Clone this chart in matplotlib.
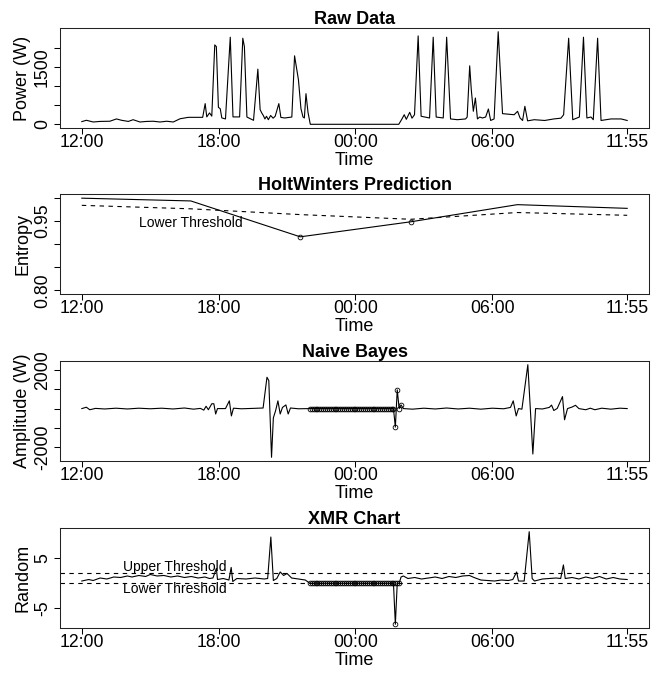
import numpy as np
import matplotlib
matplotlib.use('Agg')
import matplotlib.pyplot as plt

plt.rcParams['font.family'] = ['Liberation Sans', 'DejaVu Sans']

# x axis: hours since 12:00
tick_hours = [0, 6, 12, 18, 23 + 55 / 60]
tick_labels = ['12:00', '18:00', '00:00', '06:00', '11:55']

# --- Raw Data (W) ---
raw_t = [0.0, 0.2, 0.5, 0.8, 1.23, 1.52, 1.74, 2.04, 2.25, 2.55, 2.84, 3.13, 3.43, 3.72,
         4.01, 4.31, 4.67, 5.3, 5.41, 5.48, 5.6, 5.7, 5.83, 5.9, 5.99, 6.07, 6.14, 6.3,
         6.51, 6.63, 6.92, 7.06, 7.13, 7.24, 7.53, 7.72, 7.82, 7.89, 7.96, 8.03, 8.1,
         8.18, 8.28, 8.39, 8.48, 8.64, 8.73, 8.9, 9.21, 9.33, 9.5, 9.61, 9.7, 9.76, 9.83,
         9.92, 10.02, 13.9, 14.04, 14.14, 14.23, 14.38, 14.48, 14.59, 14.75, 14.88, 15.25,
         15.41, 15.54, 15.85, 16.0, 16.17, 16.47, 16.83, 16.9, 17.01, 17.08, 17.17, 17.26,
         17.35, 17.45, 17.57, 17.71, 17.83, 17.93, 18.08, 18.26, 18.45, 18.96, 19.11,
         19.22, 19.33, 19.43, 19.55, 19.84, 20.3, 20.7, 21.01, 21.13, 21.35, 21.53, 21.82,
         22.0, 22.15, 22.33, 22.43, 22.62, 22.77, 23.21, 23.65, 23.917]
raw_w = [70, 105, 60, 75, 80, 140, 105, 75, 120, 60, 75, 80, 60, 80,
         60, 145, 182, 182, 540, 193, 297, 214, 2075, 2031, 443, 408, 166, 140,
         2276, 193, 193, 2250, 2030, 190, 104, 1442, 383, 297, 230, 140, 210,
         120, 230, 160, 210, 540, 180, 165, 190, 1790, 1164, 410, 190, 165, 800,
         310, 0, 0, 140, 250, 130, 313, 160, 250, 2310, 210, 165,
         2276, 190, 165, 2276, 140, 120, 140, 190, 1528, 904, 340, 687,
         140, 190, 165, 190, 400, 100, 140, 2420, 278, 250, 340,
         165, 100, 470, 90, 120, 100, 140, 160, 250, 2250, 120, 190,
         2276, 165, 190, 120, 2250, 100, 140, 140, 100]

# --- HoltWinters prediction ---
hw_t = [0.0, 4.78, 9.58, 14.43, 19.1, 23.917]
hw_entropy = [0.999, 0.993, 0.9155, 0.948, 0.985, 0.977]
hw_lower = [0.9835, 0.976, 0.9635, 0.9534, 0.968, 0.962]

# --- Naive Bayes amplitude (W) ---
nb_t = [0.0, 0.2, 0.35, 0.6, 1.0, 1.5, 2.0, 2.5, 3.0, 3.5, 4.0, 4.5, 4.9, 5.2, 5.35,
        5.45, 5.55, 5.7, 5.79, 5.87, 5.95, 6.3, 6.47, 6.56, 6.65, 7.0, 7.5, 7.95, 8.12,
        8.2, 8.32, 8.4, 8.5, 8.6, 8.7, 8.8, 8.95, 9.05, 9.15, 9.5, 10.0, 13.667, 13.75,
        13.833, 13.917, 14.0, 14.1, 14.5, 15.0, 15.5, 16.0, 16.5, 17.0, 17.5, 18.0,
        18.5, 18.8, 18.92, 19.05, 19.15, 19.3, 19.56, 19.78, 19.9, 20.2, 20.5, 20.6,
        20.7, 20.85, 21.08, 21.17, 21.3, 21.5, 21.65, 21.8, 22.1, 22.3, 22.5, 22.8,
        23.2, 23.6, 23.917]
nb_w = [0, 70, -60, 10, -20, 20, -20, 20, -10, 20, -20, 30, -30, 10, -80,
        120, -60, 250, 250, -280, 0, 0, 400, -380, 20, -10, 10, 30, 1620,
        1450, -2520, -480, -100, 400, -280, 60, 190, -280, 30, -10, 0, 0, -960,
        970, 0, 190, 0, -30, 20, -20, 30, -20, 20, -30, 20,
        -10, 60, 400, -380, 0, -30, 2270, -2350, 0, -20, 60, 180,
        -100, 10, 620, -580, 0, 80, 170, 0, -60, 20, -60, 20,
        -30, 20, 0]
nb_flag_t = list(np.arange(10.0, 13.7, 1 / 12)) + [13.75, 13.833, 13.917, 14.0]
nb_flag_w = [0] * 45 + [-960, 970, 0, 190]

# --- XMR chart ---
xmr_t = [0.0, 0.3, 0.5, 0.8, 1.1, 1.4, 1.7, 2.0, 2.2, 2.5, 2.8, 3.0, 3.3, 3.6, 3.9,
         4.2, 4.5, 4.8, 5.1, 5.4, 5.6, 5.75, 5.9, 5.95, 6.2, 6.45, 6.55, 6.62, 6.8, 7.2,
         7.6, 8.0, 8.15, 8.29, 8.4, 8.55, 8.7, 8.85, 9.0, 9.2, 9.5, 9.8, 10.0, 13.667,
         13.75, 13.833, 13.917, 14.0, 14.1, 14.3, 14.6, 14.9, 15.2, 15.5, 15.8, 16.1,
         16.4, 16.7, 17.0, 17.2, 17.5, 17.8, 18.1, 18.4, 18.7, 18.9, 19.07, 19.15, 19.4,
         19.62, 19.75, 19.85, 20.2, 20.5, 20.8, 21.0, 21.12, 21.2, 21.5, 21.8, 22.1,
         22.4, 22.7, 23.0, 23.3, 23.6, 23.917]
xmr_v = [0.4, 0.7, 0.5, 1.0, 0.8, 1.2, 1.1, 1.4, 1.2, 1.5, 1.3, 1.7, 1.4, 1.5, 1.2,
         1.4, 1.1, 1.3, 1.0, 1.2, 0.9, 1.0, 2.9, 0.7, 0.9, 0.6, 3.1, 0.3, 0.9, 0.8,
         1.0, 0.8, 0.9, 9.15, 0.5, 0.9, 2.2, 1.5, 1.9, 1.0, 0.8, 0.6, -0.05, -0.05,
         -8.2, -0.05, -0.05, 1.2, 1.4, 0.9, 1.1, 0.8, 1.0, 1.2, 0.9, 1.3,
         1.1, 1.4, 1.5, 1.1, 0.6, 0.5, 0.4, 0.6, 0.5, 0.7, 2.2, 0.4, 0.4,
         10.2, 0.9, 0.4, 0.8, 0.9, 1.0, 0.9, 3.6, 0.9, 1.1, 0.8, 1.2,
         0.9, 1.3, 0.8, 1.1, 0.8, 0.7]
xmr_flag_t = list(np.arange(10.0, 13.95, 1 / 12)) + [13.75]
xmr_flag_v = [-0.05] * 48 + [-8.2]
xmr_upper = 1.92
xmr_lower = 0.0

fig = plt.figure(figsize=(6.51, 6.76), dpi=100)


def panel(top):
    return fig.add_axes([60 / 651, 1 - (top + 100) / 676, 589 / 651, 100 / 676])


def style(ax, title, ylabel, yticks, ylabels):
    ax.set_xticks(tick_hours)
    ax.set_xticklabels(tick_labels)
    ax.set_yticks(yticks)
    ax.set_yticklabels(ylabels, rotation=90, va='center')
    ax.set_title(title, fontsize=13, fontweight='bold', pad=1)
    ax.set_xlabel('Time', fontsize=13, labelpad=0.5)
    ax.set_ylabel(ylabel, fontsize=13, labelpad=2)
    ax.tick_params(length=4.1, width=0.75, labelsize=12.7, color='black')
    ax.tick_params(axis='x', pad=0.5)
    ax.tick_params(axis='y', pad=2.5)
    for s in ax.spines.values():
        s.set_linewidth(0.75)
        s.set_color('#222222')


line_kw = dict(color='black', lw=0.8)
circ_kw = dict(ls='none', marker='o', ms=3.4, mfc='none', mec='black', mew=0.6)
dash_kw = dict(color='black', lw=0.8, dashes=(4, 4))

ax1 = panel(28)
ax1.plot(raw_t, raw_w, **line_kw)
ax1.margins(x=0.04, y=0.04)
style(ax1, 'Raw Data', 'Power (W)', [0, 500, 1000, 1500, 2000], ['0', '', '', '1500', ''])

ax2 = panel(194)
ax2.plot(hw_t, hw_entropy, **line_kw)
ax2.plot(hw_t, hw_lower, **dash_kw)
low = [i for i in range(len(hw_t)) if hw_entropy[i] < hw_lower[i]]
ax2.plot([hw_t[i] for i in low], [hw_entropy[i] for i in low], **circ_kw)
ax2.text(4.79, 0.9464, 'Lower Threshold', ha='center', va='center', fontsize=10)
ax2.margins(x=0.04)
ax2.set_ylim(0.8 - 0.008, 1.0 + 0.008)
style(ax2, 'HoltWinters Prediction', 'Entropy', [0.80, 0.85, 0.90, 0.95, 1.00],
      ['0.80', '', '', '0.95', ''])

ax3 = panel(361)
ax3.plot(nb_t, nb_w, **line_kw)
ax3.plot(nb_flag_t, nb_flag_w, **circ_kw)
ax3.margins(x=0.04, y=0.04)
style(ax3, 'Naive Bayes', 'Amplitude (W)', [-2000, -1000, 0, 1000, 2000],
      ['-2000', '', '', '', '2000'])

ax4 = panel(528)
ax4.plot(xmr_t, xmr_v, **line_kw)
ax4.plot(xmr_flag_t, xmr_flag_v, **circ_kw)
ax4.axhline(xmr_upper, **dash_kw)
ax4.axhline(xmr_lower, **dash_kw)
ax4.text(4.09, 3.1, 'Upper Threshold', ha='center', va='center', fontsize=10)
ax4.text(4.09, -1.25, 'Lower Threshold', ha='center', va='center', fontsize=10)
ax4.margins(x=0.04, y=0.04)
style(ax4, 'XMR Chart', 'Random', [-5, 5], ['-5', '5'])

fig.savefig('out.png', dpi=100)
